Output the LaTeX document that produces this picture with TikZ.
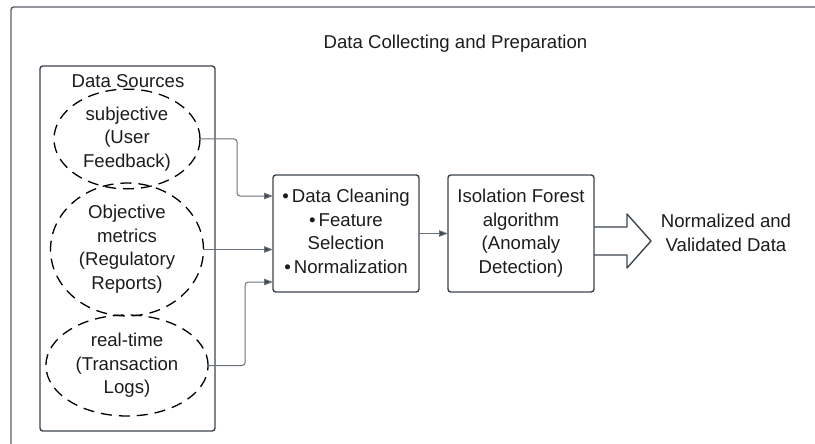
\documentclass[tikz,border=0pt]{standalone}
\usepackage{fontspec}
\setmainfont{Liberation Sans}
\usetikzlibrary{arrows.meta,shapes.geometric}
\definecolor{lineColor}{HTML}{3E444E}
\definecolor{linkColor}{HTML}{6B717B}
\definecolor{textColor}{HTML}{1C1C1C}
\tikzset{
	frame/.style={draw=lineColor!85, line width=1.4pt},
	procbox/.style={draw=lineColor, rounded corners=1mm, line width=1.4pt, minimum width=146pt, minimum height=117pt, inner sep=0, outer sep=0},
	srcnode/.style={draw=black, ellipse, line width=1.3pt, dash pattern=on 11pt off 7pt, minimum width=146pt, inner sep=0, outer sep=0},
	link/.style={draw=linkColor, line width=1pt, rounded corners=3pt, -{Triangle[length=9pt,width=6.5pt,fill=lineColor]}}
}

\begin{document}
\begin{tikzpicture}[x=1pt, y=-1pt, font=\fontsize{18.6}{23.5}\selectfont, text=textColor]
	\useasboundingbox (0,0) rectangle (815,444);
	\begin{scope}
		\clip (0,0) rectangle (815,444);
		\draw[frame, rounded corners=1mm] (11,7) rectangle (840,470);
	\end{scope}
	\node (title) at (455.5,44) {Data Collecting and Preparation};
	
	\node[draw=lineColor, line width=1.4pt, rounded corners=1mm, minimum width=175pt, minimum height=365pt, outer sep=0] (src) at (127.5,248.5) {};
	\node (srclab) at (128,81) {Data Sources};
	
	\node[srcnode, minimum height=86pt] (s1) at (127,139) {\begin{tabular}{c} subjective \\ (User \\ Feedback) \end{tabular}};
	\node[srcnode, minimum height=101pt] (s2) at (127,249.5) {\begin{tabular}{c} Objective \\ metrics \\ (Regulatory \\ Reports) \end{tabular}};
	\node[srcnode, minimum height=101pt] (s3) at (127,365.5) {\begin{tabular}{c} real-time \\ (Transaction \\ Logs) \end{tabular}};
	
	\node[procbox] (proc) at (346,233.5) {\begin{tabular}{c} \textbullet\,Data Cleaning \\ \textbullet\,Feature \\ Selection \\ \textbullet\,Normalization \end{tabular}};
	\node[procbox] (iso) at (521,233.5) {\begin{tabular}{c} Isolation Forest \\ algorithm \\ (Anomaly \\ Detection) \end{tabular}};
	\node (out) at (726,235) {\begin{tabular}{c} Normalized and \\ Validated Data \end{tabular}};
	
	\draw[link] (s1.east) -- ++(37,0) |- ([yshift=37.5pt]proc.west);
	\draw[link] (s2.east) -- (proc.west |- s2.east);
	\draw[link] (s3.east) -- ++(37,0) |- ([yshift=-48.5pt]proc.west);
	\draw[link] (proc) -- (iso);
	
	% output arrow
	\draw[draw=lineColor, line width=1.4pt, line join=round] ([yshift=6.5pt]iso.east) -- ++(33,0) -- ++(0,-13) -- ++(24,27) -- ++(-24,27) -- ++(0,-13) -- ([yshift=-21.5pt]iso.east);
\end{tikzpicture}
\end{document}
